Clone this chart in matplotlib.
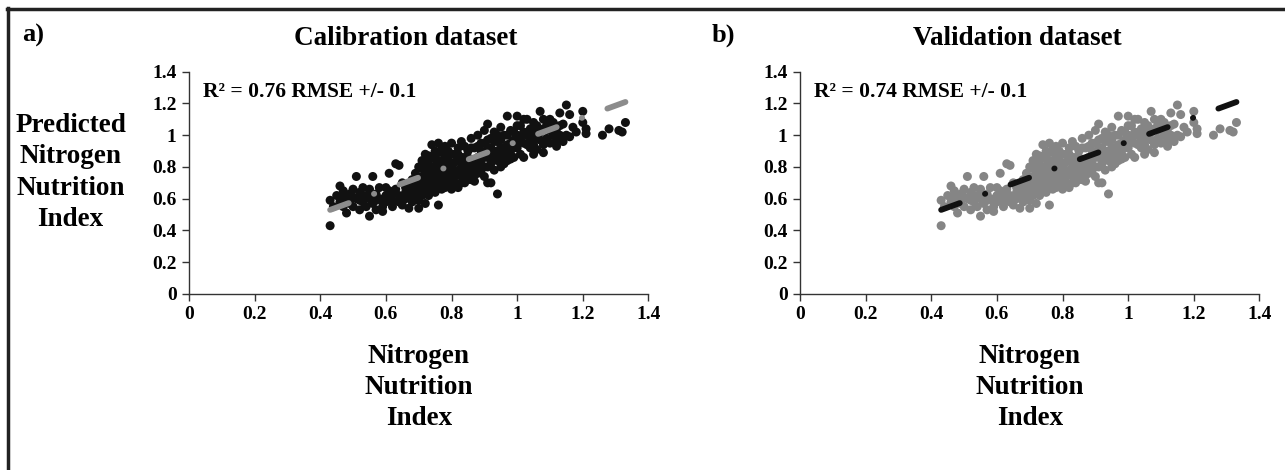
import numpy as np
import matplotlib
matplotlib.use('Agg')
import matplotlib.pyplot as plt
from matplotlib.lines import Line2D

obs_nni = [0.43, 0.43, 0.44, 0.45, 0.46, 0.46, 0.47, 0.47, 0.48, 0.48, 0.49, 0.49, 0.50, 0.50,
           0.51, 0.51, 0.52, 0.52, 0.53, 0.53, 0.54, 0.54, 0.55, 0.55, 0.55, 0.56, 0.56, 0.57,
           0.57, 0.58, 0.58, 0.59, 0.59, 0.60, 0.60, 0.60,
           0.61, 0.61, 0.62, 0.62, 0.63, 0.63, 0.64, 0.64, 0.65, 0.65, 0.66, 0.66, 0.67, 0.67,
           0.68, 0.68, 0.69, 0.69, 0.70, 0.70, 0.70, 0.70,
           0.71, 0.71, 0.71, 0.72, 0.72, 0.72, 0.72, 0.73, 0.73, 0.73, 0.74, 0.74, 0.74, 0.74,
           0.75, 0.75, 0.75, 0.75, 0.76, 0.76, 0.76, 0.76, 0.77, 0.77, 0.77, 0.78, 0.78, 0.78,
           0.78, 0.79, 0.79, 0.79, 0.80, 0.80, 0.80, 0.80,
           0.81, 0.81, 0.81, 0.82, 0.82, 0.82, 0.83, 0.83, 0.83, 0.84, 0.84, 0.84, 0.85, 0.85,
           0.85, 0.86, 0.86, 0.86, 0.87, 0.87, 0.87, 0.88, 0.88, 0.88, 0.89, 0.89, 0.89, 0.90,
           0.90, 0.90,
           0.91, 0.91, 0.91, 0.91, 0.92, 0.92, 0.92, 0.93, 0.93, 0.93, 0.94, 0.94, 0.94, 0.95,
           0.95, 0.95, 0.96, 0.96, 0.97, 0.97, 0.97, 0.98, 0.98, 0.99, 0.99, 1.00, 1.00, 1.00,
           1.01, 1.01, 1.02, 1.02, 1.03, 1.03, 1.04, 1.04, 1.05, 1.05, 1.06, 1.07, 1.07, 1.08,
           1.08, 1.09, 1.10, 1.10, 1.11, 1.12, 1.12, 1.13, 1.14, 1.14, 1.15, 1.15,
           1.16, 1.16, 1.17, 1.18, 1.20, 1.20, 1.21, 1.21, 1.26, 1.28, 1.31, 1.33, 1.32,
           0.70, 0.71, 0.71, 0.72, 0.72, 0.73, 0.73, 0.73, 0.74, 0.74, 0.75, 0.75, 0.76, 0.76,
           0.76, 0.77, 0.77, 0.77, 0.78, 0.78, 0.79, 0.79, 0.80, 0.80, 0.80,
           0.81, 0.81, 0.82, 0.82, 0.83, 0.83, 0.84, 0.84, 0.85, 0.85, 0.86, 0.86, 0.87, 0.87,
           0.88, 0.88, 0.89, 0.89, 0.90, 0.90,
           0.91, 0.91, 0.92, 0.92, 0.93, 0.93, 0.94, 0.94, 0.95, 0.95, 0.96, 0.96, 0.97, 0.97,
           0.98, 0.98, 0.99, 0.99, 1.00, 1.00,
           1.01, 1.02, 1.02, 1.03, 1.04, 1.05, 1.05, 1.06, 1.06, 1.07, 1.08, 1.08, 1.09, 1.10,
           1.11, 1.12, 1.13, 1.13,
           0.47, 0.50, 0.52, 0.53, 0.56, 0.57, 0.59, 0.61, 0.62, 0.64, 0.66, 0.67, 0.68, 0.69]
pred_nni = [0.43, 0.59, 0.55, 0.62, 0.68, 0.58, 0.65, 0.55, 0.51, 0.60, 0.63, 0.57, 0.66, 0.55,
            0.74, 0.60, 0.64, 0.53, 0.58, 0.67, 0.62, 0.55, 0.49, 0.60, 0.66, 0.74, 0.57, 0.63,
            0.53, 0.60, 0.67, 0.55, 0.52, 0.62, 0.58, 0.67,
            0.76, 0.60, 0.63, 0.55, 0.82, 0.66, 0.81, 0.58, 0.56, 0.70, 0.60, 0.64, 0.54, 0.68,
            0.66, 0.72, 0.62, 0.76, 0.54, 0.59, 0.70, 0.80,
            0.62, 0.74, 0.84, 0.66, 0.78, 0.88, 0.57, 0.70, 0.82, 0.62, 0.94, 0.75, 0.86, 0.67,
            0.72, 0.80, 0.64, 0.90, 0.56, 0.95, 0.77, 0.69, 0.84, 0.73, 0.66, 0.93, 0.80, 0.70,
            0.87, 0.76, 0.68, 0.90, 0.82, 0.73, 0.66, 0.95,
            0.70, 0.78, 0.88, 0.67, 0.84, 0.92, 0.74, 0.80, 0.96, 0.70, 0.86, 0.78, 0.90, 0.82,
            0.75, 0.98, 0.84, 0.72, 0.71, 0.92, 0.80, 1.00, 0.86, 0.76, 0.95, 0.82, 0.90, 0.74,
            1.03, 0.86,
            1.07, 0.70, 0.92, 0.80, 0.70, 0.98, 0.86, 1.02, 0.90, 0.78, 0.63, 0.96, 0.84, 1.05,
            0.92, 0.80, 0.88, 1.00, 1.12, 0.94, 0.84, 1.03, 0.90, 0.97, 0.86, 1.12, 1.00, 0.92,
            1.06, 0.88, 0.95, 0.86, 1.10, 1.00, 0.92, 1.04, 0.88, 1.08, 0.98, 1.15, 1.02, 0.89,
            0.94, 1.06, 1.10, 0.95, 1.00, 0.97, 1.04, 1.14, 0.96, 1.07, 1.19, 1.00,
            1.13, 0.99, 1.05, 1.02, 1.15, 1.08, 1.04, 1.01, 1.00, 1.04, 1.03, 1.08, 1.02,
            0.66, 0.69, 0.79, 0.72, 0.83, 0.76, 0.87, 0.66, 0.71, 0.80, 0.68, 0.85, 0.73, 0.82,
            0.89, 0.70, 0.78, 0.91, 0.74, 0.67, 0.72, 0.84, 0.78, 0.70, 0.88,
            0.74, 0.83, 0.76, 0.88, 0.70, 0.86, 0.82, 0.93, 0.72, 0.86, 0.78, 0.92, 0.84, 0.75,
            0.80, 0.93, 0.78, 0.86, 0.80, 0.95,
            0.86, 0.97, 0.82, 0.92, 0.86, 0.96, 0.90, 1.00, 0.86, 0.97, 0.92, 0.82, 1.00, 0.89,
            0.95, 0.85, 1.02, 0.92, 0.96, 1.06,
            0.98, 1.02, 1.10, 0.94, 0.98, 1.02, 0.94, 1.06, 0.91, 0.97, 1.04, 1.10, 0.98, 1.03,
            1.08, 0.93, 1.00, 1.06,
            0.61, 0.61, 0.59, 0.62, 0.62, 0.59, 0.58, 0.65, 0.59, 0.62, 0.67, 0.62, 0.58, 0.68]

# the validation panel shows the same cloud
valid_obs = obs_nni
valid_pred = pred_nni

# linear trend lines (Excel)
calib_slope, calib_icpt = 0.755, 0.205
valid_slope, valid_icpt = 0.755, 0.205

panels = [
    ('a)', 'Calibration dataset', 'R\u00b2 = 0.76 RMSE +/- 0.1', obs_nni, pred_nni,
     calib_slope, calib_icpt, '#111111', '#8c8c8c'),
    ('b)', 'Validation dataset', 'R\u00b2 = 0.74 RMSE +/- 0.1', valid_obs, valid_pred,
     valid_slope, valid_icpt, '#858585', '#111111'),
]
ticks = [0, 0.2, 0.4, 0.6, 0.8, 1, 1.2, 1.4]
tick_labels = ['0', '0.2', '0.4', '0.6', '0.8', '1', '1.2', '1.4']

plt.rcParams['font.family'] = 'Liberation Serif'
plt.rcParams['font.weight'] = 'bold'

fig = plt.figure(figsize=(12.85, 4.70), dpi=100)

lefts = [0.1471, 0.6226]
for i, (tag, title, note, xs, ys, m, b, dot_col, line_col) in enumerate(panels):
    ax = fig.add_axes([lefts[i], 0.3745, 0.3575, 0.473])
    ax.scatter(xs, ys, s=42, color=dot_col, edgecolors='none', zorder=2)
    xl = np.array([min(xs), max(xs)])
    ax.plot(xl, m * xl + b, color=line_col, lw=4.2, ls=(0, (3.4, 4.6, 0.05, 4.6)),
            dash_capstyle='round', solid_capstyle='round', zorder=3)
    ax.set_xlim(0, 1.4)
    ax.set_ylim(0, 1.4)
    ax.set_xticks(ticks)
    ax.set_xticklabels(tick_labels)
    ax.set_yticks(ticks)
    ax.set_yticklabels(tick_labels)
    ax.tick_params(labelsize=14, length=5, width=1, color='#333333', pad=4)
    for lab in ax.get_xticklabels() + ax.get_yticklabels():
        lab.set_fontweight('bold')
    for s in ['top', 'right']:
        ax.spines[s].set_visible(False)
    for s in ['left', 'bottom']:
        ax.spines[s].set_color('#333333')
        ax.spines[s].set_linewidth(1)
    ax.text(0.03, 0.91, note, transform=ax.transAxes, fontsize=15.5, fontweight='bold',
            va='center', ha='left')

    cx = lefts[i] + 0.3575 / 2
    fig.text(cx - 0.01, 0.919, title, fontsize=19.5, fontweight='bold', ha='center', va='center')
    fig.text([0.017, 0.554][i], 0.925, tag, fontsize=19, fontweight='bold', ha='left', va='center')
    fig.text(cx, 0.176, 'Nitrogen\nNutrition\nIndex', fontsize=19.5, fontweight='bold',
             ha='center', va='center', linespacing=1.32)

fig.text(0.055, 0.633, 'Predicted\nNitrogen\nNutrition\nIndex', fontsize=19.5,
         fontweight='bold', ha='center', va='center', linespacing=1.32)

# frame drawn around the figure (top and left edges visible)
fig.add_artist(Line2D([0.0055, 1.0], [0.981, 0.981], color='#222222', lw=2.5,
                      transform=fig.transFigure))
fig.add_artist(Line2D([0.0065, 0.0065], [0.0, 0.983], color='#222222', lw=2.5,
                      transform=fig.transFigure))

plt.savefig('out.png', dpi=100)
